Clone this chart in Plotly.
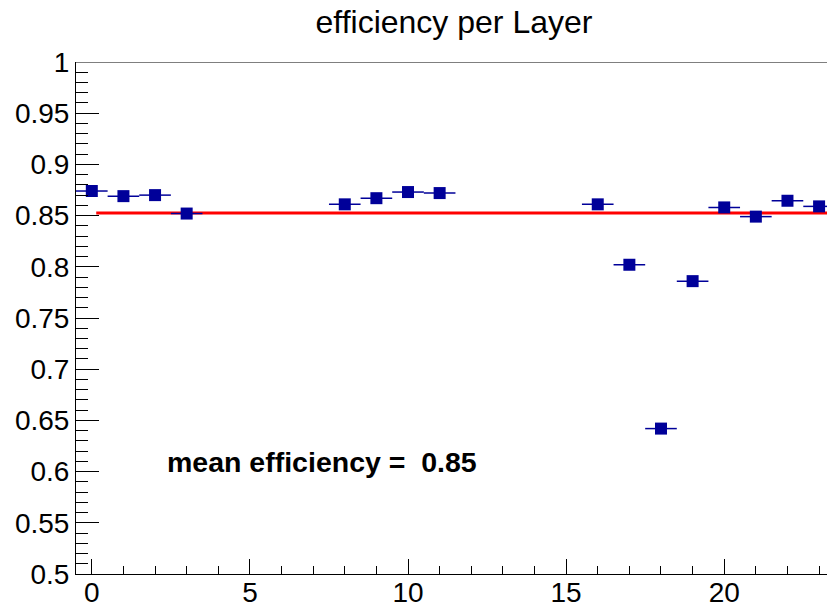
import plotly.graph_objects as go

# Layer efficiencies (layers with no measurement are left out)
layers = [0, 1, 2, 3, 8, 9, 10, 11, 16, 17, 18, 19, 20, 21, 22, 23]
efficiency = [0.874, 0.869, 0.870, 0.852, 0.861, 0.867, 0.873, 0.872,
              0.861, 0.802, 0.642, 0.786, 0.858, 0.849, 0.8645, 0.859]
layer_halfwidth = [0.5] * len(layers)

# Constant fit over the layers
MEAN_EFF = 0.8525
FIT_XMIN = 0.14
FIT_XMAX = 23.5

y_tick_vals = [0.5, 0.55, 0.6, 0.65, 0.7, 0.75, 0.8, 0.85, 0.9, 0.95, 1.0]
y_tick_text = ["0.5", "0.55", "0.6", "0.65", "0.7", "0.75", "0.8", "0.85", "0.9", "0.95", "1"]
x_tick_vals = [0, 5, 10, 15, 20]
x_tick_text = ["0", "5", "10", "15", "20"]

FONT = "Liberation Sans, Arial, Helvetica, sans-serif"
NAVY = "#000099"

fig = go.Figure()

fig.add_trace(go.Scatter(
    x=[FIT_XMIN, FIT_XMAX], y=[MEAN_EFF, MEAN_EFF],
    mode="lines", line=dict(color="#ff0000", width=3),
    showlegend=False, hoverinfo="skip", cliponaxis=True,
))

fig.add_trace(go.Scatter(
    x=layers, y=efficiency, mode="markers",
    marker=dict(symbol="square", size=12, color=NAVY, line=dict(width=0)),
    error_x=dict(type="data", array=layer_halfwidth, color=NAVY,
                 thickness=1.5, width=0),
    showlegend=False,
))

fig.add_annotation(
    x=2.31, y=0.609, xref="x", yref="y",
    text=f"<b>mean efficiency =\u00a0 {MEAN_EFF:.2f}</b>",
    showarrow=False, xanchor="left", yanchor="middle",
    font=dict(family=FONT, size=28.5, color="black"),
)

# top frame line
fig.add_shape(type="line", xref="paper", yref="y", x0=0, x1=1, y0=1, y1=1,
              line=dict(color="black", width=1))

fig.update_layout(
    width=827, height=608,
    margin=dict(l=76, r=0, t=62, b=34, autoexpand=False),
    paper_bgcolor="white", plot_bgcolor="white",
    title=dict(text="efficiency per Layer", x=454 / 827, xref="container",
               xanchor="center", y=1 - 22 / 608, yref="container",
               yanchor="middle",
               font=dict(family=FONT, size=32, color="black")),
    font=dict(family=FONT, size=28, color="black"),
)

fig.update_xaxes(
    range=[-0.5, 23.25], showgrid=False, zeroline=False, automargin=False,
    showline=True, linecolor="black", linewidth=1,
    ticks="inside", ticklen=15, tickcolor="black", tickwidth=1,
    tickvals=x_tick_vals, ticktext=x_tick_text, ticklabelstandoff=-7,
    tickfont=dict(family=FONT, size=28, color="black"),
    minor=dict(ticks="inside", ticklen=8, dtick=1, tick0=0,
               tickcolor="black", tickwidth=1, showgrid=False),
)
fig.update_yaxes(
    range=[0.5, 1.0], showgrid=False, zeroline=False, automargin=False,
    showline=True, linecolor="black", linewidth=1,
    ticks="inside", ticklen=23, tickcolor="black", tickwidth=1,
    tickvals=y_tick_vals, ticktext=y_tick_text,
    tickfont=dict(family=FONT, size=28, color="black"),
    minor=dict(ticks="inside", ticklen=12, dtick=0.01, tick0=0.5,
               tickcolor="black", tickwidth=1, showgrid=False),
)

fig.write_html("out.html")
